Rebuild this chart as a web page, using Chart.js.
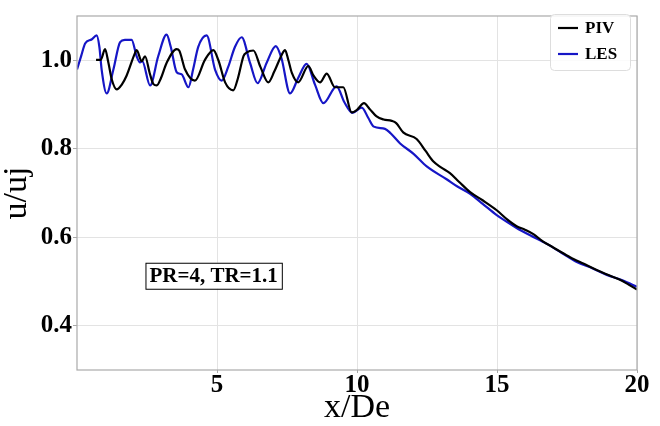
<!DOCTYPE html>
<html>
<head>
<meta charset="utf-8">
<script src="https://cdn.jsdelivr.net/npm/chart.js@4/dist/chart.umd.min.js"></script>
<style>
  html, body { margin: 0; padding: 0; background: #fff; }
  #c { display: block; }
</style>
</head>
<body>
<canvas id="c" width="660" height="426"></canvas>
<script>
// ---- data ----
const pivX = [0.68,0.85,1.00,1.12,1.24,1.42,1.60,1.77,2.07,2.13,2.31,2.43,2.60,2.73,2.85,3.00,3.20,3.56,3.65,3.86,4.21,4.57,4.87,5.05,5.29,5.58,5.75,5.95,6.05,6.30,6.55,6.83,7.05,7.31,7.43,7.55,7.67,7.90,8.26,8.45,8.68,8.92,9.21,9.51,9.81,10.00,10.25,10.45,10.70,10.95,11.24,11.40,11.65,12.13,12.45,12.73,13.00,13.32,13.65,14.04,14.50,14.99,15.35,15.70,16.00,16.30,16.65,17.01,17.30,17.61,18.10,18.56,19.00,19.39,19.70,20.00];
const pivY = [1.001,1.001,1.025,0.995,0.957,0.934,0.945,0.965,1.016,1.023,0.998,1.009,0.970,0.946,0.943,0.960,0.994,1.025,1.022,0.979,0.954,1.001,1.023,1.000,0.950,0.932,0.960,1.010,1.017,1.022,0.985,0.950,0.975,1.012,1.023,1.000,0.972,0.950,0.987,0.965,0.950,0.970,0.939,0.939,0.882,0.888,0.903,0.890,0.873,0.866,0.863,0.858,0.837,0.822,0.795,0.771,0.758,0.745,0.725,0.702,0.683,0.661,0.641,0.625,0.617,0.607,0.590,0.577,0.566,0.555,0.540,0.526,0.514,0.504,0.493,0.482];

const lesX = [0.00,0.15,0.29,0.52,0.70,0.80,0.88,1.06,1.30,1.54,1.71,1.95,2.13,2.25,2.33,2.61,2.90,3.20,3.35,3.56,3.74,3.98,4.15,4.33,4.63,4.93,5.17,5.40,5.64,5.88,6.18,6.45,6.77,7.10,7.30,7.61,7.90,8.20,8.50,8.80,9.27,9.55,9.84,10.17,10.40,10.60,11.00,11.20,11.54,12.01,12.49,13.20,13.60,14.04,14.50,14.99,15.35,15.70,16.20,16.78,17.30,17.85,18.40,18.92,19.50,20.00];
const lesY = [0.979,1.010,1.038,1.047,1.056,1.030,0.979,0.925,0.979,1.041,1.046,1.046,1.009,0.995,0.998,0.943,1.009,1.058,1.030,0.973,0.968,0.939,0.980,1.030,1.056,0.979,0.954,0.985,1.030,1.052,0.994,0.948,0.994,1.032,1.005,0.925,0.960,0.992,0.945,0.903,0.941,0.905,0.881,0.893,0.870,0.850,0.845,0.835,0.812,0.789,0.760,0.731,0.714,0.698,0.675,0.650,0.635,0.621,0.604,0.585,0.565,0.544,0.530,0.515,0.502,0.488];

const seriesNames = ['PIV', 'LES'];
const xTicks = [5, 10, 15, 20];
const yTicks = [0.4, 0.6, 0.8, 1.0];
const annotationText = 'PR=4, TR=1.1';
const annotationAt = [4.88, 0.513]; // data coords of the label's centre

// ---- styling ----
const SERIF = '"Liberation Serif", "Times New Roman", "DejaVu Serif", serif';
const BLUE = '#1616c6';

function pts(xs, ys) { return xs.map((x, i) => ({ x: x, y: ys[i] })); }

const framePlugin = {
  id: 'frame',
  afterDraw(chart) {
    const ctx = chart.ctx, a = chart.chartArea;
    ctx.save();
    ctx.strokeStyle = '#aaaaaa';
    ctx.lineWidth = 1.2;
    ctx.strokeRect(a.left, a.top, a.right - a.left, a.bottom - a.top);

    // annotation box
    const xs = chart.scales.x, ys = chart.scales.y;
    const cx = xs.getPixelForValue(annotationAt[0]);
    const cy = ys.getPixelForValue(annotationAt[1]);
    ctx.font = 'bold 21px ' + SERIF;
    const w = ctx.measureText(annotationText).width;
    const bw = w + 8, bh = 26;
    ctx.fillStyle = '#fff';
    ctx.fillRect(cx - bw / 2, cy - bh / 2, bw, bh);
    ctx.strokeStyle = '#000';
    ctx.lineWidth = 1;
    ctx.strokeRect(cx - bw / 2 + 0.5, cy - bh / 2 + 0.5, bw, bh);
    ctx.fillStyle = '#000';
    ctx.textAlign = 'center';
    ctx.textBaseline = 'middle';
    ctx.fillText(annotationText, cx, cy + 1);

    // legend box (top right)
    const lx = 550, ly = 14, lw = 80, lh = 56;
    ctx.fillStyle = 'rgba(255,255,255,0.85)';
    ctx.strokeStyle = '#dddddd';
    ctx.lineWidth = 1;
    ctx.beginPath();
    if (ctx.roundRect) ctx.roundRect(lx + 0.5, ly + 0.5, lw, lh, 4); else ctx.rect(lx + 0.5, ly + 0.5, lw, lh);
    ctx.fill();
    ctx.stroke();
    ctx.font = 'bold 17px ' + SERIF;
    ctx.textAlign = 'left';
    chart.data.datasets.forEach((ds, i) => {
      const yy = ly + 14 + i * 26;
      ctx.strokeStyle = ds.borderColor;
      ctx.lineWidth = 2.2;
      ctx.beginPath();
      ctx.moveTo(lx + 8, yy);
      ctx.lineTo(lx + 28, yy);
      ctx.stroke();
      ctx.fillStyle = '#000';
      ctx.fillText(ds.label, lx + 35, yy + 1);
    });
    ctx.restore();
  }
};

new Chart(document.getElementById('c'), {
  type: 'line',
  data: {
    datasets: [
      { label: seriesNames[0], data: pts(pivX, pivY), borderColor: '#000000', borderWidth: 2.2, pointRadius: 0, tension: 0.4, cubicInterpolationMode: 'monotone', fill: false },
      { label: seriesNames[1], data: pts(lesX, lesY), borderColor: BLUE, borderWidth: 2.2, pointRadius: 0, tension: 0.4, cubicInterpolationMode: 'monotone', fill: false }
    ]
  },
  options: {
    responsive: false,
    animation: false,
    layout: { padding: { top: 5, right: 23, left: 0, bottom: 0 } },
    plugins: { legend: { display: false }, tooltip: { enabled: false } },
    scales: {
      x: {
        type: 'linear', min: 0, max: 20,
        afterBuildTicks(s) { s.ticks = xTicks.map(v => ({ value: v })); },
        afterFit(s) { s.height = 56; },
        grid: { color: '#e3e3e3', lineWidth: 1, tickLength: 3, tickColor: '#aaaaaa' },
        border: { display: false },
        ticks: { color: '#000', font: { family: SERIF, size: 25, weight: 'bold', lineHeight: 1.0 }, padding: 0, maxRotation: 0 },
        title: { display: true, text: 'x/De', color: '#000', font: { family: SERIF, size: 34, lineHeight: 1.0 }, padding: { top: 0, bottom: 1 } }
      },
      y: {
        type: 'linear', min: 0.3, max: 1.1,
        afterBuildTicks(s) { s.ticks = yTicks.map(v => ({ value: v })); },
        afterFit(s) { s.width = 77; },
        grid: { color: '#e3e3e3', lineWidth: 1, tickLength: 4, tickColor: '#aaaaaa' },
        border: { display: false },
        ticks: { color: '#000', font: { family: SERIF, size: 25, weight: 'bold' }, padding: 1, callback: v => Number(v).toFixed(1) },
        title: { display: true, text: 'u/uj', color: '#000', font: { family: SERIF, size: 34, lineHeight: 1.0 }, padding: { top: 0, bottom: 0 } }
      }
    }
  },
  plugins: [framePlugin]
});
</script>
</body>
</html>
